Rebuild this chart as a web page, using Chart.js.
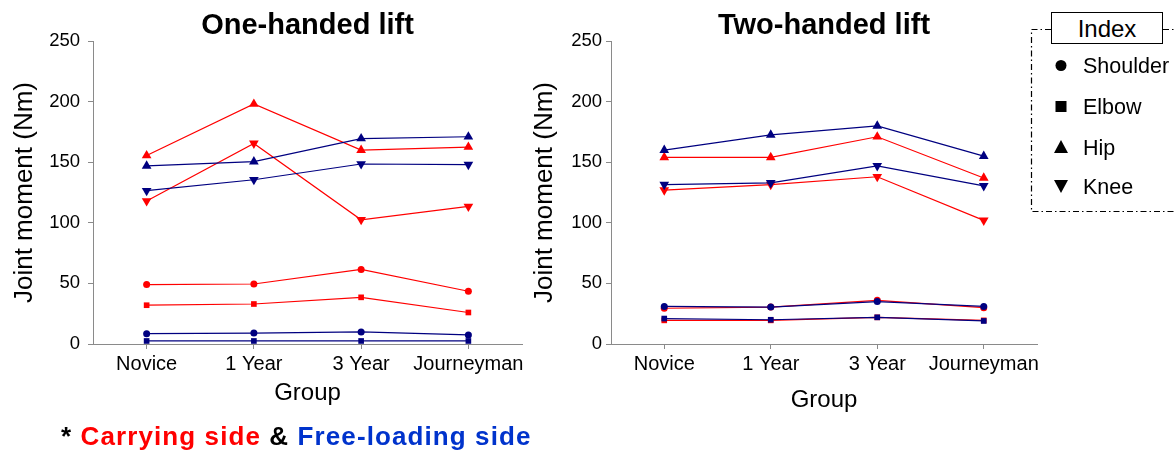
<!DOCTYPE html>
<html><head><meta charset="utf-8">
<script src="https://cdn.jsdelivr.net/npm/chart.js@4/dist/chart.umd.min.js"></script>
<style>
body{margin:0;background:#fff;width:1175px;height:451px;overflow:hidden;position:relative;font-family:"Liberation Sans",Arial,sans-serif;}
canvas{position:absolute;top:0;}
#c1{left:0}
#c2{left:520px}
#lgsvg{position:absolute;left:0;top:0}
.lt{position:absolute;left:1083px;font-size:21.5px;line-height:24px;color:#000;white-space:nowrap}
#idx{position:absolute;left:1051px;top:12px;width:110px;height:30px;border:1px solid #000;background:#fff;font-size:24px;line-height:32px;text-align:center;color:#000}
#note{position:absolute;left:61px;top:422px;font-size:26px;line-height:28px;font-weight:bold;letter-spacing:1.1px;color:#000;white-space:nowrap}
#note .r{color:#ff0000}
#note .b{color:#0033cc}
</style></head>
<body>
<canvas id="c1" width="540" height="420"></canvas>
<canvas id="c2" width="540" height="420"></canvas>
<svg id="lgsvg" width="1175" height="451">
  <g fill="none" stroke="#000" stroke-width="1.2" stroke-dasharray="6 3 1.5 3">
    <path d="M1051 29.5 H1031.5 V211.5 H1185"/>
    <path d="M1163 29.5 H1185"/>
  </g>
  <circle cx="1061" cy="65.5" r="5.5" fill="#000"/>
  <rect x="1055.5" y="101" width="11" height="11" fill="#000"/>
  <path d="M1061 140 L1068 153 L1054 153 Z" fill="#000"/>
  <path d="M1054 180 L1068 180 L1061 193 Z" fill="#000"/>
</svg>
<div id="idx">Index</div>
<div class="lt" style="top:53.5px">Shoulder</div>
<div class="lt" style="top:94.5px">Elbow</div>
<div class="lt" style="top:135.5px">Hip</div>
<div class="lt" style="top:174.5px">Knee</div>
<div id="note">* <span class="r">Carrying side</span> &amp; <span class="b">Free-loading side</span></div>
<script>
// ---- data ----
const categories = ['Novice', '1 Year', '3 Year', 'Journeyman'];
const yTicks = [0, 50, 100, 150, 200, 250];
const joints = ['Shoulder', 'Elbow', 'Hip', 'Knee'];

// One-handed lift
const oneCarryShoulder = [49, 49.5, 61.5, 43.5];
const oneCarryElbow    = [32, 33, 38.5, 26];
const oneCarryHip      = [155.5, 198, 160, 162.5];
const oneCarryKnee     = [118, 165.5, 102.5, 113.5];
const oneFreeShoulder  = [8.5, 9, 10, 7.5];
const oneFreeElbow     = [2.5, 2.5, 2.5, 2.5];
const oneFreeHip       = [147, 150.5, 169.5, 171];
const oneFreeKnee      = [126.5, 135.5, 148.5, 148];

// Two-handed lift
const twoCarryShoulder = [29.5, 30.5, 36, 30];
const twoCarryElbow    = [19.5, 19.5, 22, 19.5];
const twoCarryHip      = [154, 154, 171, 137];
const twoCarryKnee     = [127, 131.5, 138, 102];
const twoFreeShoulder  = [31, 30.5, 35, 31];
const twoFreeElbow     = [21, 20, 22, 19];
const twoFreeHip       = [160, 172.5, 180, 155];
const twoFreeKnee      = [131.5, 133, 147, 130.5];

// ---- styles ----
const F = "'Liberation Sans', Arial, sans-serif";
const RED = '#ff0000', BLUE = '#000080', AX = '#8a8a8a';
const markers = {
  Shoulder: {pointStyle: 'circle', radius: 3.5, rotation: 0},
  Elbow:    {pointStyle: 'rect', radius: 4, rotation: 0},
  Hip:      {pointStyle: 'triangle', radius: 5.6, rotation: 0},
  Knee:     {pointStyle: 'triangle', radius: 5.6, rotation: 180}
};

function series(label, data, color, joint) {
  const m = markers[joint];
  return {
    label: label, data: data,
    borderColor: color, backgroundColor: color,
    borderWidth: 1.2, pointStyle: m.pointStyle, pointRadius: m.radius,
    pointRotation: m.rotation, pointBorderWidth: 0, pointBackgroundColor: color,
    pointHoverRadius: m.radius, tension: 0, fill: false
  };
}

function makeChart(id, title, carry, free, o) {
  const datasets = [];
  joints.forEach((j, i) => datasets.push(series('Free-loading ' + j, free[i], BLUE, j)));
  joints.forEach((j, i) => datasets.push(series('Carrying ' + j, carry[i], RED, j)));
  return new Chart(document.getElementById(id), {
    type: 'line',
    data: {labels: categories, datasets: datasets},
    options: {
      responsive: false, animation: false, devicePixelRatio: 1,
      layout: {padding: {left: 0, right: o.padRight, top: 0, bottom: 0}},
      plugins: {
        legend: {display: false}, tooltip: {enabled: false},
        title: {display: true, text: title, fullSize: false, color: '#000',
          font: {family: F, size: 29, weight: 'bold', lineHeight: 1},
          padding: {top: 11.8, bottom: 0.2}}
      },
      scales: {
        x: {
          type: 'category', offset: true,
          grid: {drawOnChartArea: false, drawTicks: true, tickLength: 5, color: AX},
          border: {color: AX, width: 1},
          ticks: {color: '#000', font: {family: F, size: 20}, padding: 3, maxRotation: 0, autoSkip: false},
          title: {display: true, text: 'Group', color: '#000', font: {family: F, size: 24},
            padding: {top: 0, bottom: o.groupPad}},
          afterFit: s => { s.height = 420 - 344; }
        },
        y: {
          min: yTicks[0], max: yTicks[yTicks.length - 1],
          afterBuildTicks: s => { s.ticks = yTicks.map(v => ({value: v})); },
          grid: {drawOnChartArea: false, drawTicks: true, tickLength: 5, color: AX},
          border: {color: AX, width: 1},
          ticks: {color: '#000', font: {family: F, size: 18.5}, padding: o.yTickPad},
          title: {display: true, text: 'Joint moment (Nm)', color: '#000', font: {family: F, size: 26},
            padding: {top: 9.4, bottom: 0}},
          afterFit: s => { s.width = o.yWidth; }
        }
      }
    }
  });
}

makeChart('c1', 'One-handed lift',
  [oneCarryShoulder, oneCarryElbow, oneCarryHip, oneCarryKnee],
  [oneFreeShoulder, oneFreeElbow, oneFreeHip, oneFreeKnee],
  {padRight: 18, yWidth: 93, yTickPad: 8, groupPad: 12.6});
makeChart('c2', 'Two-handed lift',
  [twoCarryShoulder, twoCarryElbow, twoCarryHip, twoCarryKnee],
  [twoFreeShoulder, twoFreeElbow, twoFreeHip, twoFreeKnee],
  {padRight: 23, yWidth: 91, yTickPad: 4, groupPad: 5.6});
</script>
</body></html>
